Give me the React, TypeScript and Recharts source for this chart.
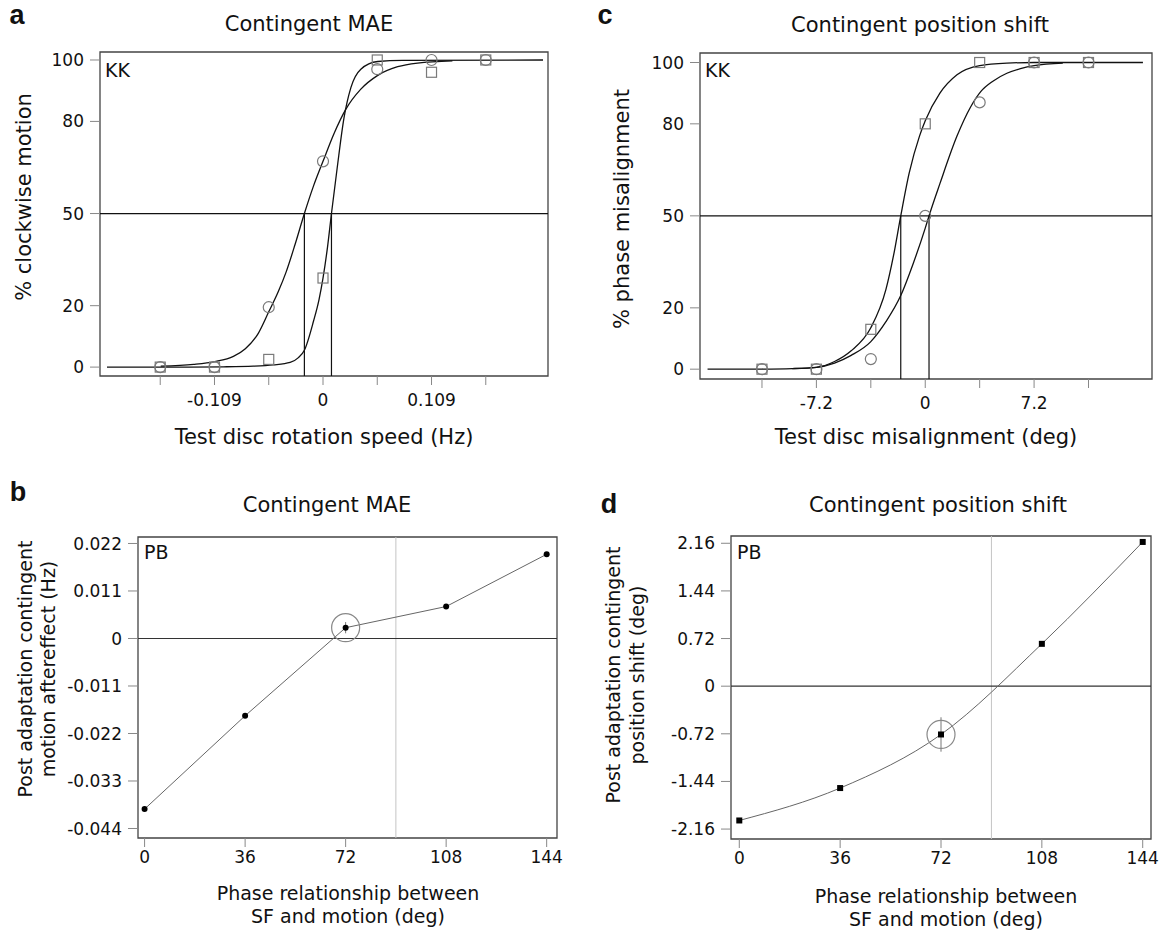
import React from 'react'
import {
  ComposedChart,
  Line,
  Scatter,
  XAxis,
  YAxis,
  ReferenceLine,
  ReferenceArea,
  ReferenceDot,
  ErrorBar,
} from 'recharts'

// ---- panel a: contingent MAE, observer KK ----
const maeSpeeds = [-0.1635, -0.109, -0.0545, 0, 0.0545, 0.109, 0.1635]
const maeSpeedLabels = [-0.109, 0, 0.109]
const maeCircles = [0, 0, 19.5, 67, 97, 100, 100]
const maeSquares = [0, 0, 2.5, 29, 100, 96, 100]
const maeFitCircleX = [-0.163, -0.13, -0.109, -0.09, -0.078, -0.065, -0.0545, -0.045, -0.037, -0.028, -0.0187, -0.0095, 0, 0.011, 0.023, 0.038, 0.055, 0.075, 0.095, 0.13]
const maeFitCircleY = [0.3, 0.9, 1.8, 3.5, 6, 11, 18, 24.5, 31, 40, 50, 59, 67, 76, 84, 90.5, 95, 97.8, 99, 99.7]
const maeFitSquareX = [-0.217, -0.15, -0.1, -0.07, -0.05, -0.033, -0.025, -0.0187, -0.0095, -0.004, 0, 0.0045, 0.0085, 0.0143, 0.021, 0.028, 0.038, 0.055, 0.08, 0.221]
const maeFitSquareY = [0, 0, 0.1, 0.3, 0.7, 1.5, 3, 5.5, 15, 22, 29, 39, 50, 65, 81, 91, 97, 99.5, 99.9, 100]
const maePse = [-0.0187, 0.0085]

// ---- panel c: contingent position shift, observer KK ----
const posOffsets = [-10.8, -7.2, -3.6, 0, 3.6, 7.2, 10.8]
const posOffsetLabels = [-7.2, 0, 7.2]
const posCircles = [0, 0, 3.3, 50, 87, 100, 100]
const posSquares = [0, 0, 13, 80, 100, 100, 100]
const posFitSquareX = [-14.4, -10.8, -8.8, -7.2, -6.0, -4.9, -3.6, -2.6, -2.1, -1.62, -1.06, -0.38, 0, 0.97, 2.1, 3.6, 5.4, 7.2, 14.4]
const posFitSquareY = [0, 0.05, 0.2, 0.6, 2.5, 6, 13.5, 26, 37, 50, 64, 76, 81, 90, 96, 99, 99.8, 100, 100]
const posFitCircleX = [-8.8, -7.2, -6.0, -4.9, -3.6, -2.6, -1.62, -0.83, 0, 0.25, 0.97, 2.1, 3.0, 3.67, 4.5, 5.4, 6.3, 7.2, 9.1]
const posFitCircleY = [0.2, 0.6, 2, 4.5, 9, 15.5, 24, 34, 46, 50, 60.5, 76, 85.5, 90.5, 94, 96.5, 98, 99, 99.8]
const posPse = [-1.62, 0.25]

const percentTicks = [0, 20, 50, 80, 100]

// ---- panels b and d: observer PB ----
const phases = [0, 36, 72, 108, 144]
const nullPhase = 90
const maeShift = [-0.0395, -0.0179, 0.0025, 0.0074, 0.0195]
const maeShiftErr = [0, 0, 0.0013, 0, 0]
const maeShiftTicks = [-0.044, -0.033, -0.022, -0.011, 0, 0.011, 0.022]
const posShift = [-2.03, -1.54, -0.73, 0.64, 2.18]
const posShiftErr = [0, 0, 0.26, 0, 0]
const posShiftTicks = [-2.16, -1.44, -0.72, 0, 0.72, 1.44, 2.16]

const ink = '#111'
const font = 'DejaVu Sans'

const pts = (xs: number[], ys: number[], es?: number[]) =>
  xs.map((x, i) => ({ x, y: ys[i], err: es ? es[i] : 0 }))

const hollowSquare = (p: any) => (
  <rect x={p.cx - 5} y={p.cy - 5} width={10} height={10} fill="none" stroke="#7a7a7a" strokeWidth={1.2} />
)
const hollowCircle = (p: any) => (
  <circle cx={p.cx} cy={p.cy} r={5.5} fill="none" stroke="#7a7a7a" strokeWidth={1.2} />
)
const blackSquare = (p: any) => (
  <rect key={p.index} x={p.cx - 3} y={p.cy - 3} width={6} height={6} fill="#000" />
)

function Txt({ x, y, size, bold, rotate, left, lh, children }: any) {
  const shift = left ? 'translate(0,-50%)' : 'translate(-50%,-50%)'
  return (
    <div
      style={{
        position: 'absolute',
        left: x,
        top: y,
        transform: rotate ? `${shift} rotate(-90deg)` : shift,
        fontFamily: bold ? 'Liberation Sans' : font,
        fontWeight: bold ? 'bold' : 'normal',
        fontSize: size,
        lineHeight: lh ? `${lh}px` : bold ? 0.8 : 1.2,
        whiteSpace: 'nowrap',
        textAlign: 'center',
        color: ink,
      }}
    >
      {children}
    </div>
  )
}

function Psychometric(props: any) {
  const { box, margin, xDomain, yDomain, xTicks, xLabels, circles, squares, fitA, fitB, pse } = props
  return (
    <div style={{ position: 'absolute', left: box[0], top: box[1] }}>
      <ComposedChart width={box[2]} height={box[3]} margin={margin}>
        <XAxis
          type="number"
          dataKey="x"
          domain={xDomain}
          ticks={xTicks}
          interval={0}
          allowDataOverflow
          axisLine={false}
          tickSize={9}
          tickMargin={9}
          height={40}
          tickLine={{ stroke: '#888' }}
          tick={{ fontSize: 17, fill: ink, fontFamily: font }}
          tickFormatter={(v: number) => (xLabels.includes(v) ? String(v) : '')}
        />
        <YAxis
          type="number"
          dataKey="y"
          domain={yDomain}
          ticks={percentTicks}
          interval={0}
          allowDataOverflow
          axisLine={false}
          width={60}
          tickSize={10}
          tickMargin={6}
          tickLine={{ stroke: '#888' }}
          tick={{ fontSize: 17, fill: ink, fontFamily: font }}
        />
        <ReferenceLine y={50} stroke={ink} strokeWidth={1.2} />
        {pse.map((p: number) => (
          <ReferenceLine key={p} segment={[{ x: p, y: 50 }, { x: p, y: yDomain[0] }]} stroke={ink} strokeWidth={1.2} />
        ))}
        <Line data={fitA} dataKey="y" type="monotone" dot={false} activeDot={false} stroke={ink} strokeWidth={1.3} isAnimationActive={false} />
        <Line data={fitB} dataKey="y" type="monotone" dot={false} activeDot={false} stroke={ink} strokeWidth={1.3} isAnimationActive={false} />
        <Scatter data={squares} dataKey="y" shape={hollowSquare} isAnimationActive={false} />
        <Scatter data={circles} dataKey="y" shape={hollowCircle} isAnimationActive={false} />
        <ReferenceArea x1={xDomain[0]} x2={xDomain[1]} y1={yDomain[0]} y2={yDomain[1]} fill="none" stroke="#444" strokeWidth={1.3} />
      </ComposedChart>
    </div>
  )
}

function PhasePlot(props: any) {
  const { box, margin, xDomain, yDomain, yTicks, data, curved, squareDots } = props
  const marked = data[2]
  return (
    <div style={{ position: 'absolute', left: box[0], top: box[1] }}>
      <ComposedChart width={box[2]} height={box[3]} margin={margin}>
        <XAxis
          type="number"
          dataKey="x"
          domain={xDomain}
          ticks={phases}
          interval={0}
          allowDataOverflow
          axisLine={false}
          tickSize={9}
          tickMargin={4}
          height={40}
          tickLine={{ stroke: '#888' }}
          tick={{ fontSize: 17, fill: ink, fontFamily: font }}
        />
        <YAxis
          type="number"
          dataKey="y"
          domain={yDomain}
          ticks={yTicks}
          interval={0}
          allowDataOverflow
          axisLine={false}
          width={60}
          tickSize={10}
          tickMargin={6}
          tickLine={{ stroke: '#888' }}
          tick={{ fontSize: 17, fill: ink, fontFamily: font }}
          tickFormatter={(v: number) => String(v)}
        />
        <ReferenceLine x={nullPhase} stroke="#c4c4c4" strokeWidth={1} />
        <ReferenceLine y={0} stroke="#333" strokeWidth={1.2} />
        <Line
          data={data}
          dataKey="y"
          type={curved ? 'monotone' : 'linear'}
          stroke="#666"
          strokeWidth={1}
          dot={squareDots ? blackSquare : { r: 3, fill: '#000', stroke: 'none' }}
          activeDot={false}
          isAnimationActive={false}
        >
          <ErrorBar dataKey="err" width={0} stroke="#777" strokeWidth={1} direction="y" />
        </Line>
        <ReferenceDot x={marked.x} y={marked.y} r={14} fill="none" stroke="#888" strokeWidth={1.2} />
        <ReferenceArea x1={xDomain[0]} x2={xDomain[1]} y1={yDomain[0]} y2={yDomain[1]} fill="none" stroke="#444" strokeWidth={1.3} />
      </ComposedChart>
    </div>
  )
}

export default function App() {
  return (
    <div style={{ position: 'absolute', left: 0, top: 0, width: 1165, height: 931, background: '#fff', fontFamily: font }}>
      <Psychometric
        box={[0, 0, 580, 460]}
        margin={{ top: 52, right: 32, bottom: 44, left: 40 }}
        xDomain={[-0.224, 0.226]}
        yDomain={[-2.9, 102.6]}
        xTicks={maeSpeeds}
        xLabels={maeSpeedLabels}
        circles={pts(maeSpeeds, maeCircles)}
        squares={pts(maeSpeeds, maeSquares)}
        fitA={pts(maeFitCircleX, maeFitCircleY)}
        fitB={pts(maeFitSquareX, maeFitSquareY)}
        pse={maePse}
      />
      <Psychometric
        box={[580, 0, 585, 460]}
        margin={{ top: 53, right: 13, bottom: 41, left: 60 }}
        xDomain={[-14.9, 15.0]}
        yDomain={[-3.2, 103.1]}
        xTicks={posOffsets}
        xLabels={posOffsetLabels}
        circles={pts(posOffsets, posCircles)}
        squares={pts(posOffsets, posSquares)}
        fitA={pts(posFitSquareX, posFitSquareY)}
        fitB={pts(posFitCircleX, posFitCircleY)}
        pse={posPse}
      />
      <PhasePlot
        box={[0, 460, 580, 471]}
        margin={{ top: 77, right: 23, bottom: 53, left: 78 }}
        xDomain={[-2.36, 147.7]}
        yDomain={[-0.0462, 0.0235]}
        yTicks={maeShiftTicks}
        data={pts(phases, maeShift, maeShiftErr)}
      />
      <PhasePlot
        box={[580, 460, 585, 471]}
        margin={{ top: 76, right: 14, bottom: 52, left: 91 }}
        xDomain={[-2.96, 146.96]}
        yDomain={[-2.31, 2.27]}
        yTicks={posShiftTicks}
        data={pts(phases, posShift, posShiftErr)}
        curved
        squareDots
      />

      <Txt x={17} y={16} size={27} bold>a</Txt>
      <Txt x={309} y={25} size={21}>Contingent MAE</Txt>
      <Txt x={25} y={197} size={21} rotate>% clockwise motion</Txt>
      <Txt x={324} y={438} size={21}>Test disc rotation speed (Hz)</Txt>
      <Txt x={105} y={70} size={19} left>KK</Txt>

      <Txt x={605} y={16} size={27} bold>c</Txt>
      <Txt x={920} y={26} size={21}>Contingent position shift</Txt>
      <Txt x={623} y={209} size={21} rotate>% phase misalignment</Txt>
      <Txt x={926} y={438} size={21}>Test disc misalignment (deg)</Txt>
      <Txt x={705} y={70} size={19} left>KK</Txt>

      <Txt x={18} y={493} size={27} bold>b</Txt>
      <Txt x={327} y={506} size={21}>Contingent MAE</Txt>
      <Txt x={37} y={669} size={19} lh={23} rotate>Post adaptation contingent<br />motion aftereffect (Hz)</Txt>
      <Txt x={348} y={905} size={19} lh={23}>Phase relationship between<br />SF and motion (deg)</Txt>
      <Txt x={144} y={552} size={19} left>PB</Txt>

      <Txt x={609} y={505} size={27} bold>d</Txt>
      <Txt x={938} y={506} size={21}>Contingent position shift</Txt>
      <Txt x={625} y={675} size={19} lh={24} rotate>Post adaptation contingent<br />position shift (deg)</Txt>
      <Txt x={946} y={908} size={19} lh={23}>Phase relationship between<br />SF and motion (deg)</Txt>
      <Txt x={737} y={552} size={19} left>PB</Txt>
    </div>
  )
}
